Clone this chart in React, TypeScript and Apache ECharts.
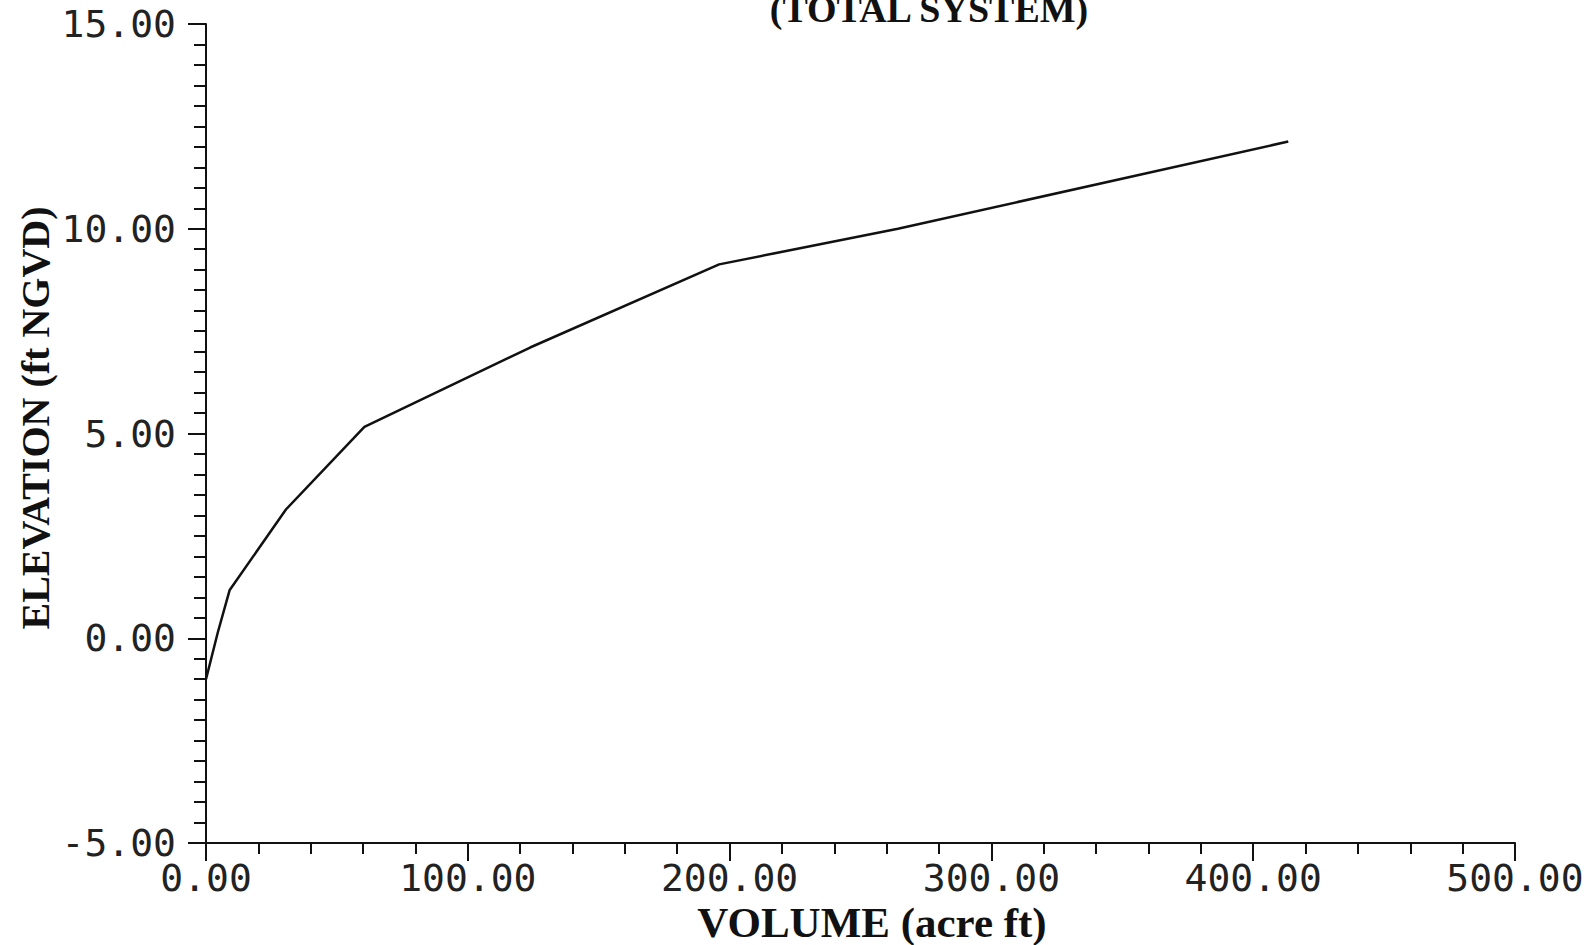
import { useEffect, useRef } from "react";
import * as echarts from "echarts";

// Stage-volume curve (TOTAL SYSTEM)
const volumeAcreFt = [0, 4.5, 9.0, 30.6, 60.5, 123.8, 196.0, 264.3, 413.4];
const elevationFt = [-1.0, 0.14, 1.17, 3.15, 5.16, 7.1, 9.13, 10.0, 12.13];

const xRange = { min: 0, max: 500, interval: 100 };
const yRange = { min: -5, max: 15, interval: 5 };

const titleText = "(TOTAL SYSTEM)";
const xName = "VOLUME (acre ft)";
const yName = "ELEVATION (ft NGVD)";

export default function App() {
  const ref = useRef<HTMLDivElement>(null);

  useEffect(() => {
    if (!ref.current) return;
    const chart = echarts.init(ref.current, undefined, { renderer: "svg" });
    const ink = "#111";
    const tickFont = {
      fontFamily: "DejaVu Sans Mono",
      fontSize: 38,
      color: "#222",
    };
    chart.setOption({
      animation: false,
      backgroundColor: "#fff",
      grid: {
        left: 206,
        right: 81,
        top: 24,
        bottom: 102,
        containLabel: false,
        outerBoundsMode: "none",
      },
      xAxis: {
        type: "value",
        min: xRange.min,
        max: xRange.max,
        interval: xRange.interval,
        splitLine: { show: false },
        axisLine: { show: true, onZero: false, lineStyle: { color: ink, width: 2 } },
        axisTick: { show: true, inside: false, length: 18, lineStyle: { color: ink, width: 2 } },
        minorTick: { show: true, splitNumber: 5, length: 11, lineStyle: { color: ink, width: 2 } },
        axisLabel: {
          ...tickFont,
          margin: 16,
          formatter: (v: number) => v.toFixed(2),
        },
      },
      yAxis: {
        type: "value",
        min: yRange.min,
        max: yRange.max,
        interval: yRange.interval,
        splitLine: { show: false },
        axisLine: { show: true, onZero: false, lineStyle: { color: ink, width: 2 } },
        axisTick: { show: true, inside: false, length: 18, lineStyle: { color: ink, width: 2 } },
        minorTick: { show: true, splitNumber: 10, length: 12, lineStyle: { color: ink, width: 2 } },
        axisLabel: {
          ...tickFont,
          margin: 30,
          formatter: (v: number) => v.toFixed(2),
        },
      },
      series: [
        {
          type: "line",
          data: volumeAcreFt.map((v, i) => [v, elevationFt[i]]),
          showSymbol: false,
          symbol: "none",
          lineStyle: { color: ink, width: 2.5 },
          clip: false,
        },
      ],
      graphic: [
        {
          type: "text",
          x: 929,
          y: 9,
          style: {
            text: titleText,
            fontFamily: "Liberation Serif",
            fontWeight: "bold",
            fontSize: 38,
            fill: ink,
            align: "center",
            verticalAlign: "middle",
          },
        },
        {
          type: "text",
          x: 872,
          y: 922,
          style: {
            text: xName,
            fontFamily: "Liberation Serif",
            fontWeight: "bold",
            fontSize: 43,
            fill: ink,
            align: "center",
            verticalAlign: "middle",
          },
        },
        {
          type: "text",
          x: 35,
          y: 418,
          rotation: Math.PI / 2,
          style: {
            text: yName,
            fontFamily: "Liberation Serif",
            fontWeight: "bold",
            fontSize: 40,
            fill: ink,
            align: "center",
            verticalAlign: "middle",
          },
        },
      ],
    });
    return () => chart.dispose();
  }, []);

  return (
    <div
      ref={ref}
      style={{ position: "absolute", left: 0, top: 0, width: 1596, height: 945, background: "#fff" }}
    />
  );
}
